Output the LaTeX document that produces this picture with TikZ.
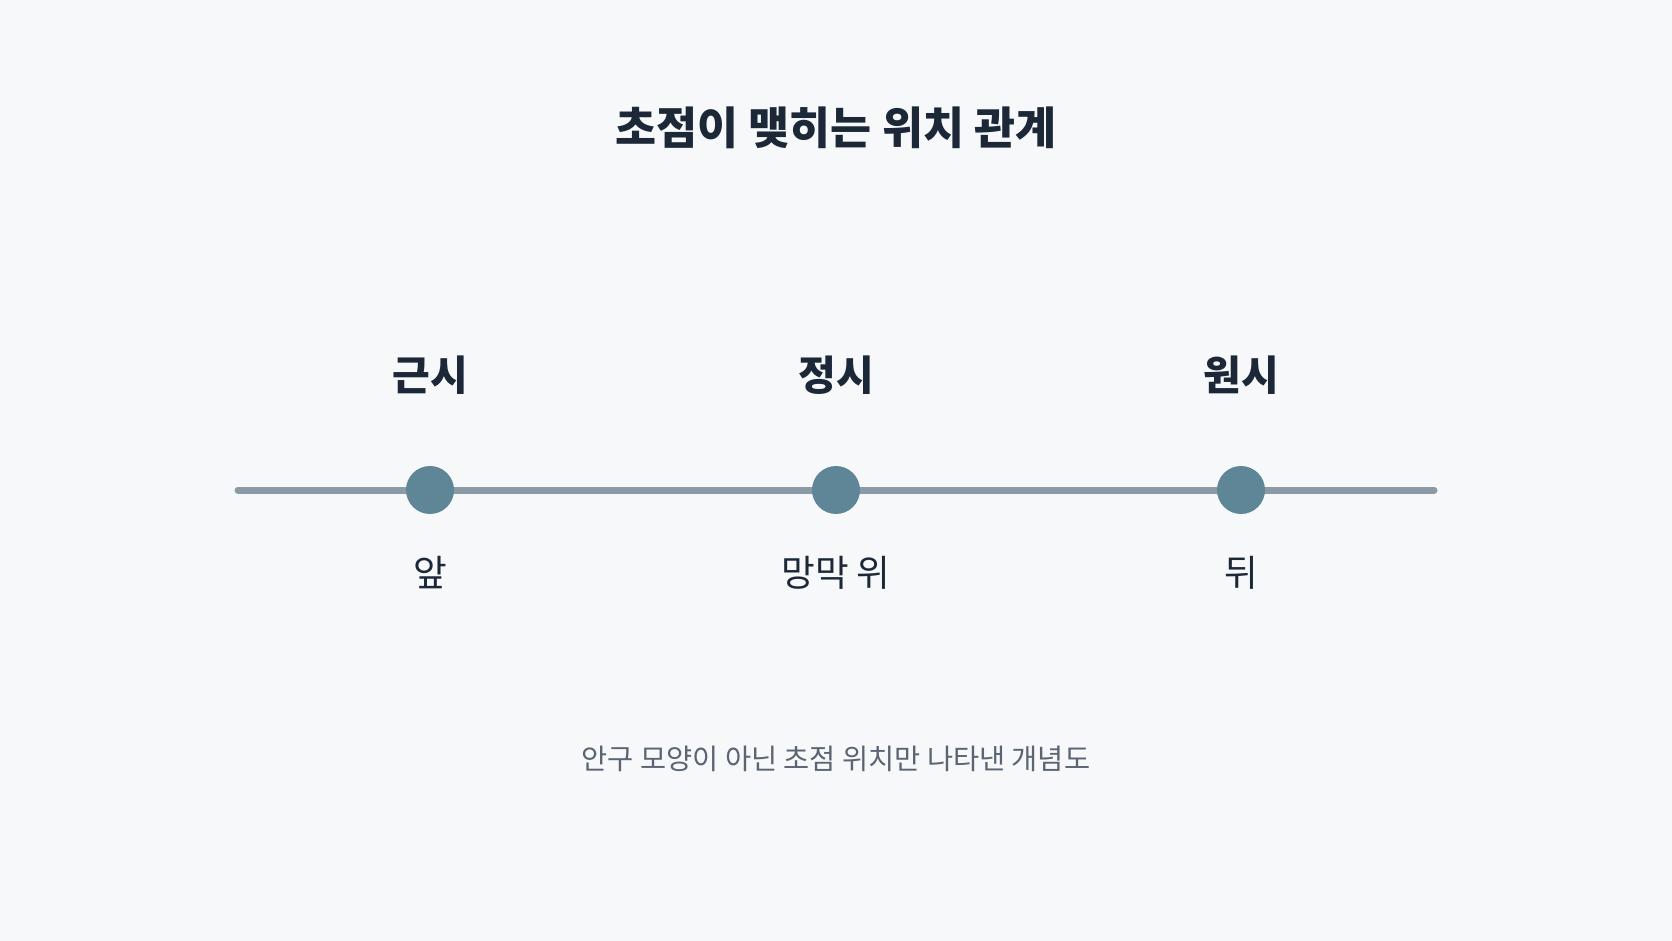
\documentclass[tikz,border=0pt]{standalone}
\usepackage{fontspec}
\setmainfont{Noto Sans CJK KR}
\definecolor{bgc}{HTML}{F6F8FA}
\definecolor{titlec}{HTML}{1C2838}
\definecolor{linec}{HTML}{8A9BA5}
\definecolor{dotc}{HTML}{5F8696}
\definecolor{capc}{HTML}{5A6472}
\tikzset{
  titletext/.style={inner sep=0pt, text=titlec, font=\fontsize{22.3pt}{26pt}\selectfont\bfseries},
  headtext/.style={inner sep=0pt, text=titlec, font=\fontsize{20.5pt}{24pt}\selectfont\bfseries},
  subtext/.style={inner sep=0pt, text=titlec, font=\fontsize{18.3pt}{22pt}\selectfont},
  captext/.style={inner sep=0pt, text=capc, font=\fontsize{14.2pt}{17pt}\selectfont},
  dot/.style={circle, fill=dotc, minimum size=24pt, inner sep=0pt},
}
\begin{document}
\begin{tikzpicture}[x=0.5pt,y=-0.5pt]
\fill[bgc] (0,0) rectangle (1672,941);
\useasboundingbox (0,0) rectangle (1672,941);
\node[titletext] (title) at (836,128) {초점이 맺히는 위치 관계};
\coordinate (lstart) at (238,490);
\coordinate (lend) at (1434,490);
\draw[linec, line width=3.5pt, line cap=round] (lstart) -- (lend);
\node[dot] (d1) at (430,490) {};
\node[dot] (d2) at (836,490) {};
\node[dot] (d3) at (1241,490) {};
\node[headtext] (h1) at (430,375) {근시};
\node[headtext] (h2) at (836,375) {정시};
\node[headtext] (h3) at (1241,375) {원시};
\node[subtext] (s1) at (430,573) {앞};
\node[subtext] (s2) at (836,573) {망막 위};
\node[subtext] (s3) at (1241,573) {뒤};
\node[captext] (cap) at (836,759) {안구 모양이 아닌 초점 위치만 나타낸 개념도};
\end{tikzpicture}
\end{document}
